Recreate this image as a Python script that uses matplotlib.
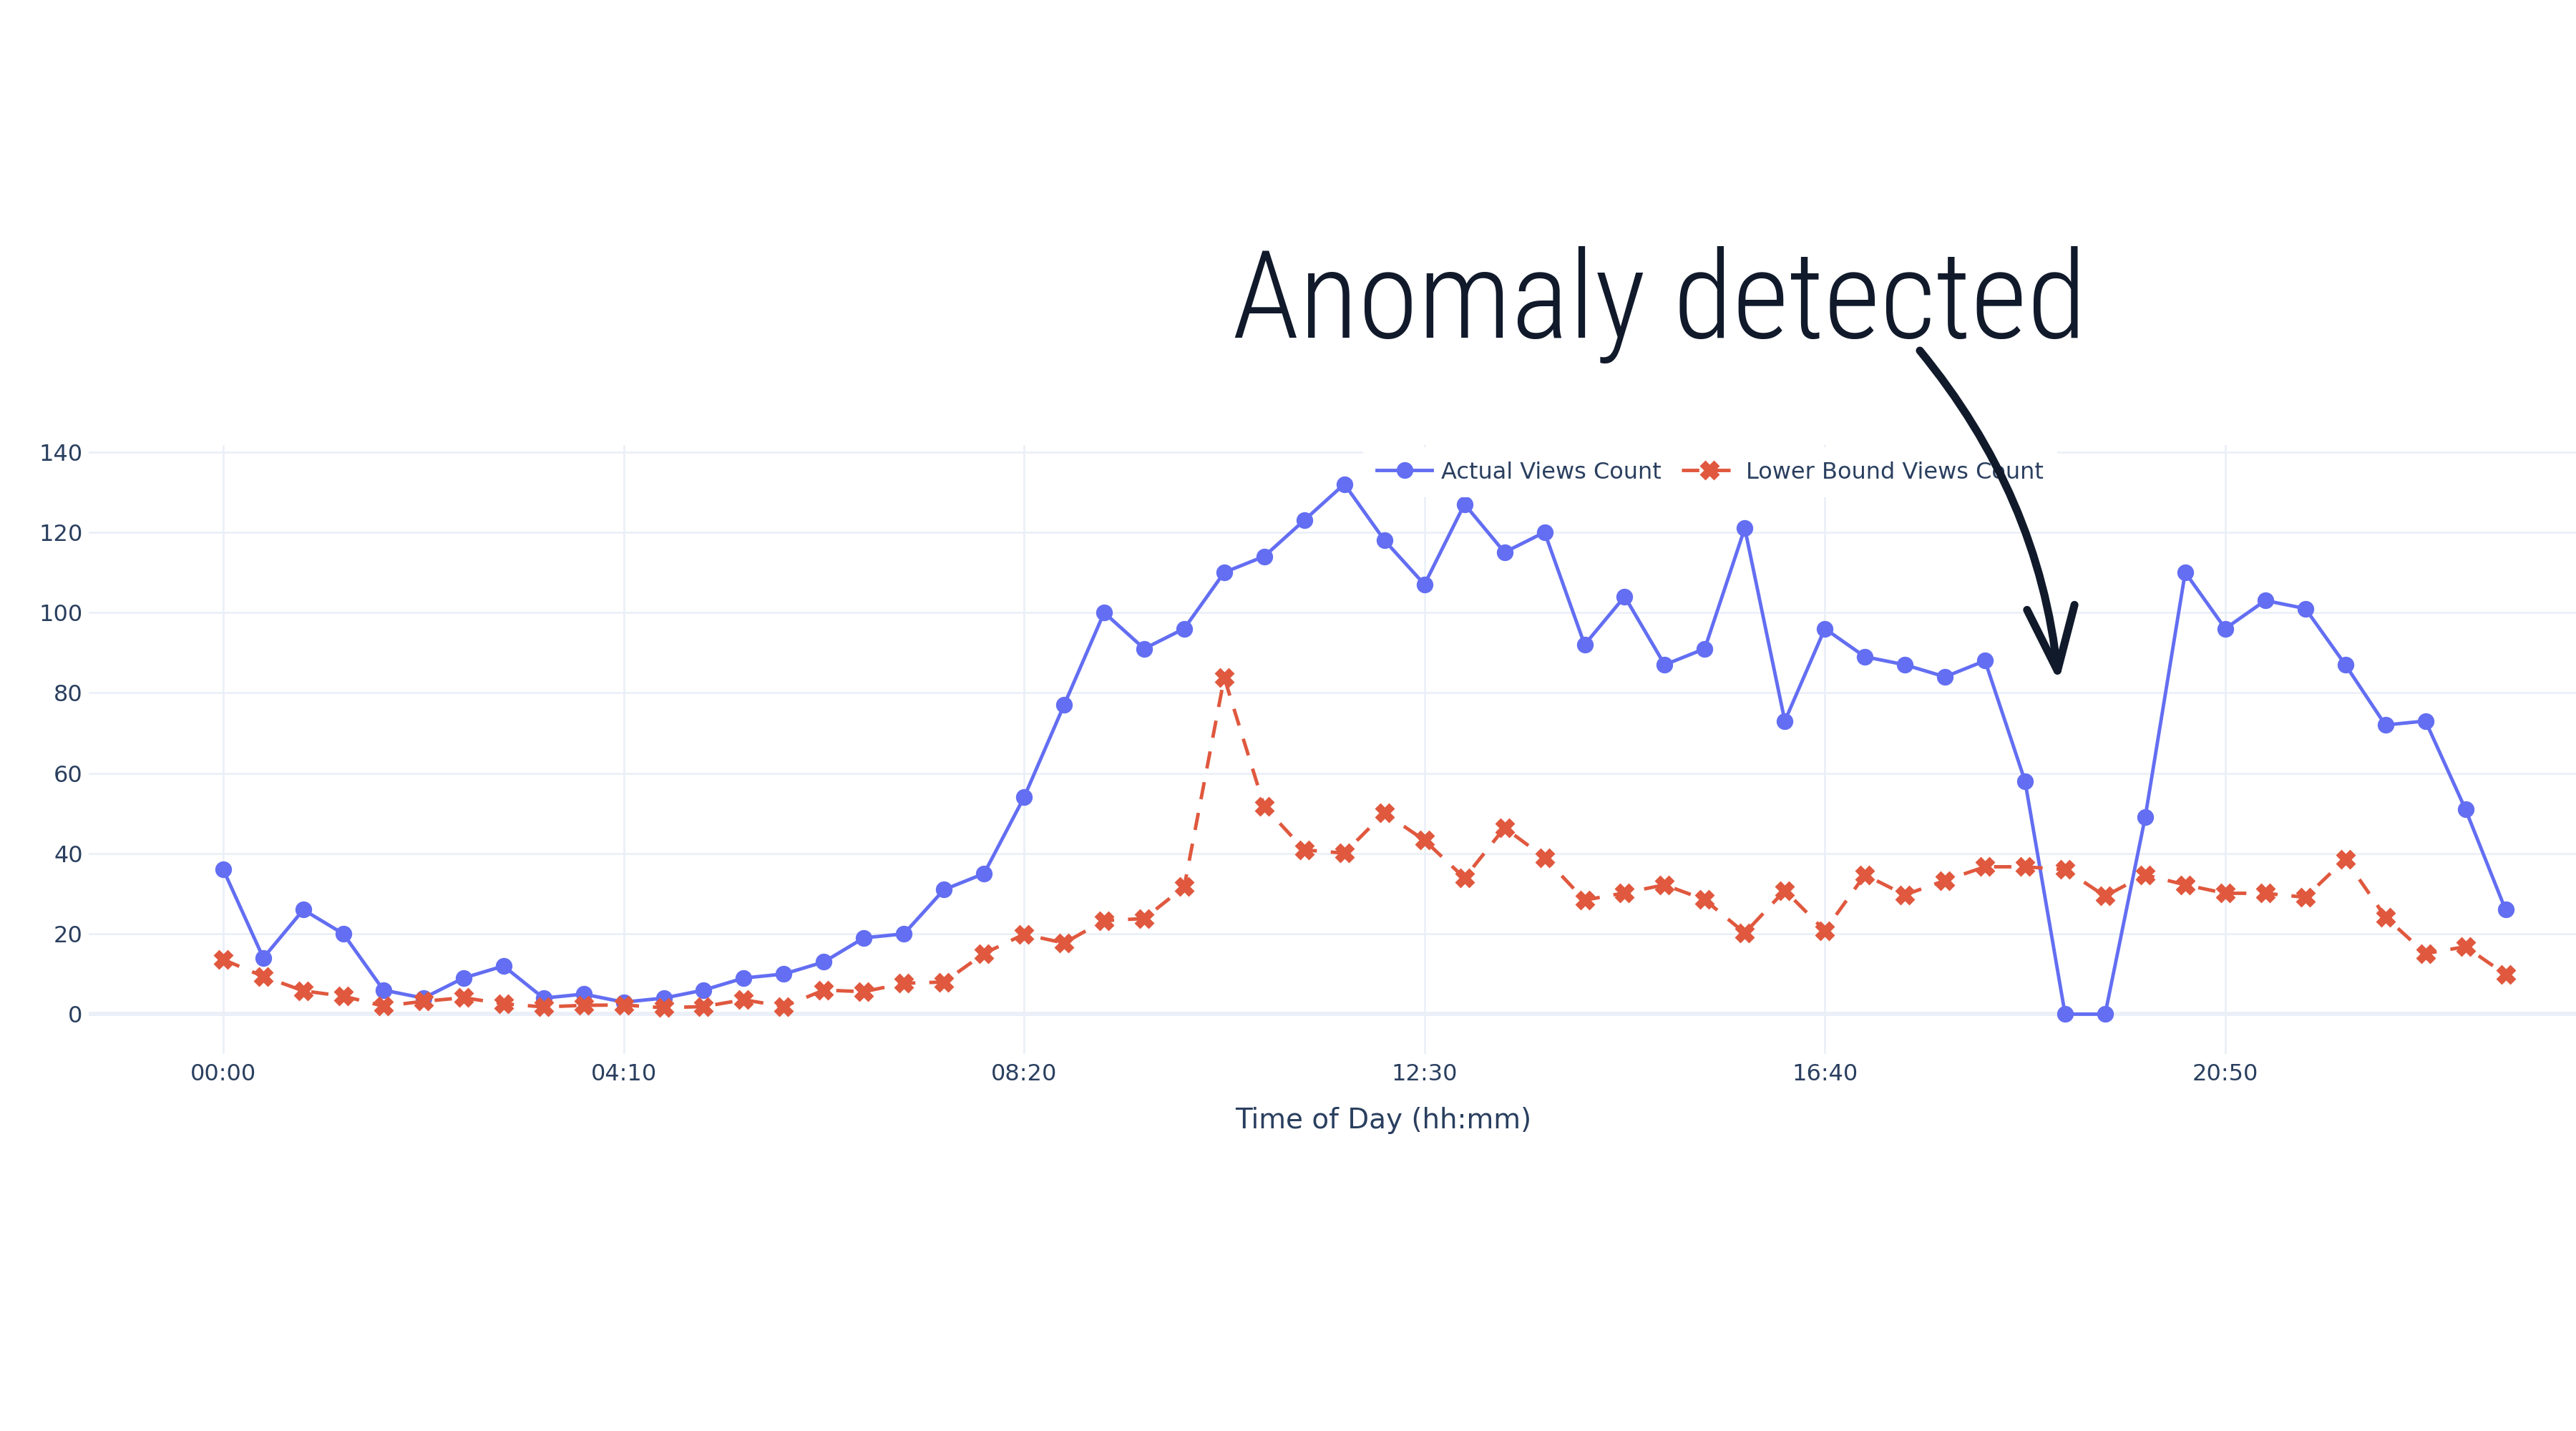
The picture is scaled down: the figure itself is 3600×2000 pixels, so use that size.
import numpy as np
import matplotlib
matplotlib.use('Agg')
import matplotlib.pyplot as plt
from matplotlib.patches import FancyArrowPatch
from matplotlib import font_manager as fm

plt.rcParams['font.family'] = ['DejaVu Sans']

# data: one sample every 25 minutes, 00:00 .. 23:45
minutes = np.arange(0, 1426, 25)
actual_views = [36, 14, 26, 20, 6, 4, 9, 12, 4, 5, 3, 4,
                6, 9, 10, 13, 19, 20, 31, 35, 54, 77, 100, 91, 96, 110, 114, 123,
                132, 118, 107, 127, 115, 120, 92, 104, 87, 91, 121, 73, 96, 89, 87, 84,
                88, 58, 0, 0, 49, 110, 96, 103, 101, 87, 72, 73, 51, 26]
lower_bound = [13.6, 9.4, 5.8, 4.5, 2.0, 3.2, 4.1, 2.6, 1.8, 2.2, 2.3, 1.6,
               1.9, 3.6, 1.9, 6.0, 5.6, 7.7, 8.0, 15.1, 19.9, 17.7, 23.3, 23.8, 31.7, 83.8, 51.7, 40.9,
               40.1, 50.1, 43.3, 33.9, 46.4, 39.0, 28.4, 30.2, 32.2, 28.5, 20.2, 30.8, 20.8, 34.7, 29.7, 33.3,
               36.7, 36.7, 36.0, 29.4, 34.7, 32.2, 30.1, 30.1, 29.1, 38.6, 24.2, 15.1, 16.8, 9.9]
xtick_pos = [0, 250, 500, 750, 1000, 1250]
xtick_labels = ['00:00', '04:10', '08:20', '12:30', '16:40', '20:50']
ytick_pos = [0, 20, 40, 60, 80, 100, 120, 140]

BLUE = '#636ef2'
RED = '#E0583E'
FONT_C = '#2a3f5f'
GRID_C = '#EBF0F8'
INK = '#111a2b'

W, H = 3600, 2000
fig = plt.figure(figsize=(18, 10), dpi=200)
ax = fig.add_axes([124/W, 1 - 1473/H, 1 - 124/W, (1473 - 621.5)/H])

ax.plot(minutes, actual_views, color=BLUE, lw=1.75, marker='o', ms=7.4,
        label='Actual Views Count', zorder=3)
ax.plot(minutes, lower_bound, color=RED, lw=1.75, marker='X', ms=8.5,
        linestyle=(0, (5.0, 4.0)), label='Lower Bound Views Count', zorder=3)

ax.set_xlim(-84, 1469)
ax.set_ylim(-9.9, 141.8)
ax.set_xticks(xtick_pos)
ax.set_xticklabels(xtick_labels)
ax.set_yticks(ytick_pos)
ax.tick_params(axis='both', length=0, labelsize=11.5, labelcolor=FONT_C)
ax.tick_params(axis='x', pad=4.5)
ax.tick_params(axis='y', pad=3)
ax.grid(True, color=GRID_C, lw=1.0, zorder=0)
ax.axhline(0, color=GRID_C, lw=2.2, zorder=1)
ax.set_axisbelow(True)
for s in ax.spines.values():
    s.set_visible(False)

ax.set_xlabel('Time of Day (hh:mm)', fontsize=14, color=FONT_C, labelpad=11)
ax.xaxis.label.set_x((1933 - 124) / (W - 124))

leg = ax.legend(loc='center', bbox_to_anchor=(2390/W, 1 - 660/H), bbox_transform=fig.transFigure,
                ncol=2, frameon=True, fontsize=11.5, handlelength=2.4, handletextpad=0.4,
                columnspacing=0.9, borderpad=0.6, borderaxespad=0)
leg.get_frame().set_facecolor('white')
leg.get_frame().set_edgecolor('none')
leg.get_frame().set_alpha(1)
for t in leg.get_texts():
    t.set_color(FONT_C)

# hand-drawn style annotation: pick the narrowest family we have
installed = {f.name for f in fm.fontManager.ttflist}
ann_family = 'DejaVu Sans'
for cand in ['Roboto Condensed', 'Liberation Sans Narrow', 'DejaVu Sans Condensed',
             'Open Sans Condensed', 'Noto Sans Condensed']:
    if cand in installed:
        ann_family = cand
        break

ann = fig.text(2319/W, 1 - 472/H, 'Anomaly detected', family=ann_family,
               fontsize=60, color=INK, ha='center', va='baseline', fontweight='light')
# fit the text width to the reference (about 1194 px)
fig.canvas.draw()
bb = ann.get_window_extent()
ann.set_fontsize(60 * 1194 / bb.width)

arrow = FancyArrowPatch((2683/W, 1 - 490/H), (2877/W, 1 - 953/H),
                        transform=fig.transFigure,
                        connectionstyle='arc3,rad=-0.15',
                        arrowstyle='->,head_length=0.8,head_width=0.3',
                        shrinkA=0, shrinkB=0,
                        mutation_scale=40, lw=4.0, color=INK, zorder=10)
fig.add_artist(arrow)

fig.savefig('out.png', dpi=200, facecolor='white')
